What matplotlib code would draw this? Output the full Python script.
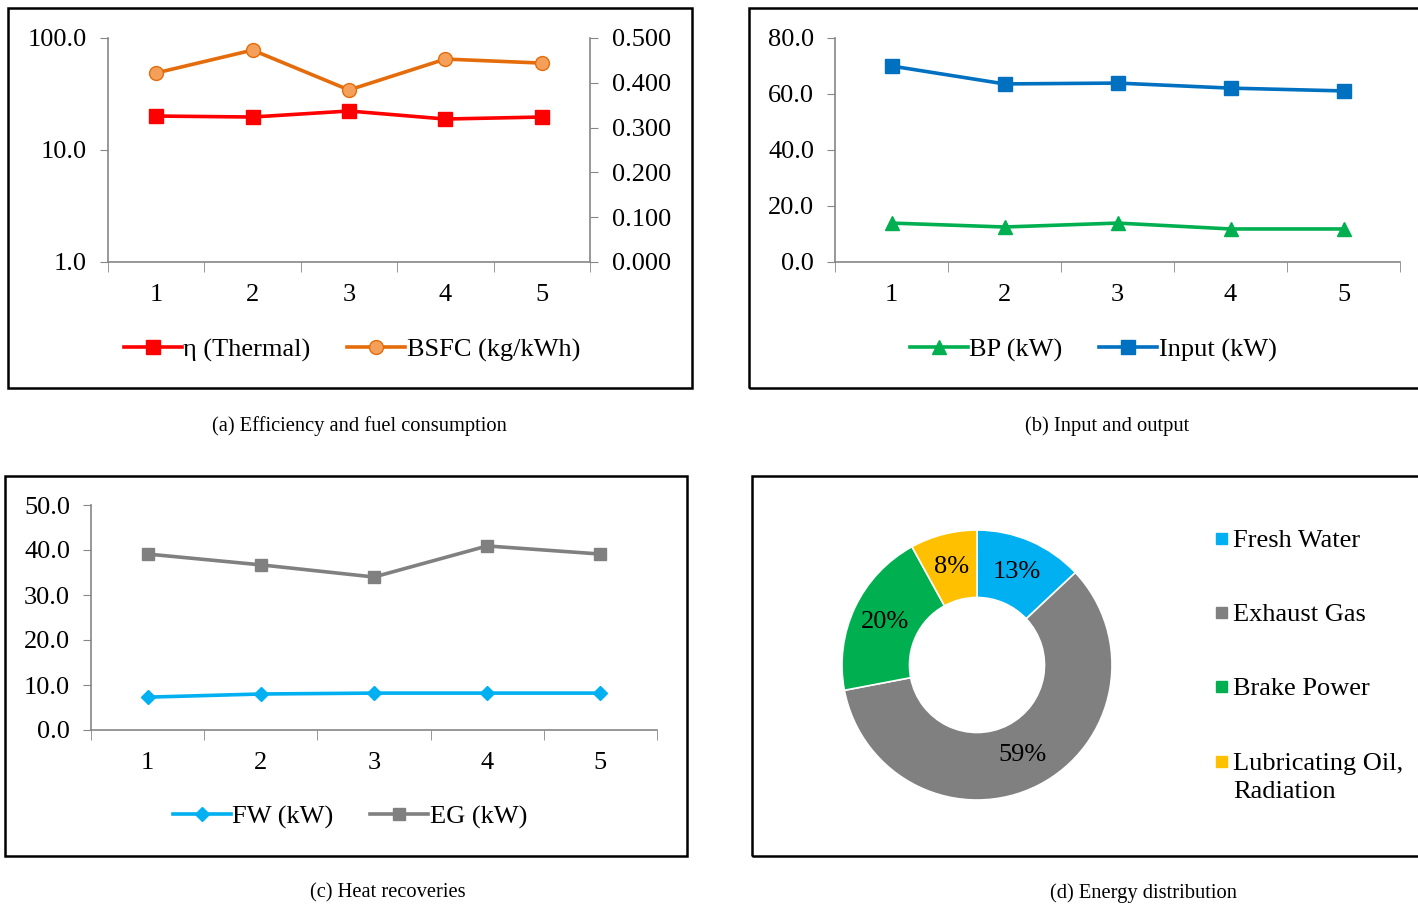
# -*- coding: utf-8 -*-
#%%=========================== Bibliotecas ==================================
import matplotlib
matplotlib.use('Agg')
import matplotlib.pyplot as plt
from matplotlib.patches import Rectangle
from matplotlib.ticker import FixedLocator, FormatStrFormatter, NullLocator

plt.rcParams['font.family'] = ['Liberation Serif', 'DejaVu Serif']

#%%=========================== Dados ========================================
casos = [1, 2, 3, 4, 5]

eta_termico = [20.1, 19.7, 22.3, 18.9, 19.7]
bsfc = [0.422, 0.473, 0.384, 0.453, 0.444]

bp_kw = [13.9, 12.5, 13.9, 11.8, 11.8]
input_kw = [70.0, 63.6, 63.9, 62.1, 61.1]

fw_kw = [7.3, 8.0, 8.2, 8.2, 8.2]
eg_kw = [39.1, 36.7, 34.0, 40.9, 39.1]

energia_rotulos = ['Fresh Water', 'Exhaust Gas', 'Brake Power',
                   'Lubricating Oil,\nRadiation']
energia_pct = [13, 59, 20, 8]
energia_cores = ['#00B0F0', '#808080', '#00B050', '#FFC000']

#%%=========================== Figura =======================================
W, H = 1418, 909
fig = plt.figure(figsize=(W / 100, H / 100), dpi=100)
fig.patch.set_facecolor('white')


def caixa(x0, y0, x1, y1):
    # converte pixels (topo-esquerda) para coordenadas da figura
    return [x0 / W, 1 - y1 / H, (x1 - x0) / W, (y1 - y0) / H]


def moldura(x0, y0, x1, y1):
    r = Rectangle((x0 / W, 1 - y1 / H), (x1 - x0) / W, (y1 - y0) / H,
                  transform=fig.transFigure, fill=False, edgecolor='black',
                  linewidth=1.8, zorder=0)
    fig.patches.append(r)


FS = 19
FS_LEG = 14.8
COR_EIXO = '#868686'


def estilo_categorias(ax):
    ax.set_xlim(0.5, 5.5)
    ax.xaxis.set_major_locator(FixedLocator(casos))
    ax.xaxis.set_minor_locator(FixedLocator([0.5, 1.5, 2.5, 3.5, 4.5, 5.5]))
    ax.tick_params(axis='x', which='major', length=0, pad=16, labelsize=FS)
    ax.tick_params(axis='x', which='minor', length=7, direction='out',
                   color=COR_EIXO)
    ax.tick_params(axis='y', which='major', length=6, direction='out',
                   color=COR_EIXO, pad=9, labelsize=FS)
    ax.tick_params(axis='y', which='minor', length=0)
    for s in ['top', 'right']:
        ax.spines[s].set_visible(False)
    for s in ['left', 'bottom']:
        ax.spines[s].set_color(COR_EIXO)
        ax.spines[s].set_linewidth(1.2)


#%% (a) Eficiência e consumo
moldura(8, 8, 692, 388)
ax_a = fig.add_axes(caixa(108, 38, 590, 262))
ax_a.set_yscale('log')
ax_a.set_ylim(1, 100)
ax_a.yaxis.set_major_locator(FixedLocator([1, 10, 100]))
ax_a.yaxis.set_minor_locator(NullLocator())
ax_a.yaxis.set_major_formatter(FormatStrFormatter('%.1f'))
estilo_categorias(ax_a)
l1, = ax_a.plot(casos, eta_termico, color='#FF0000', lw=2.6, marker='s',
                markersize=10, markeredgecolor='#FF0000', zorder=3)

ax_a2 = ax_a.twinx()
ax_a2.set_ylim(0, 0.5)
ax_a2.set_yticks([0, 0.1, 0.2, 0.3, 0.4, 0.5])
ax_a2.yaxis.set_major_formatter(FormatStrFormatter('%.3f'))
ax_a2.tick_params(axis='y', length=6, direction='out', color=COR_EIXO,
                  pad=10, labelsize=FS)
for s in ['top', 'left', 'bottom']:
    ax_a2.spines[s].set_visible(False)
ax_a2.spines['right'].set_color(COR_EIXO)
ax_a2.spines['right'].set_linewidth(1.2)
l2, = ax_a2.plot(casos, bsfc, color='#E46C0A', lw=2.6, marker='o',
                 markersize=10, markerfacecolor='#F5A05A',
                 markeredgecolor='#E46C0A', zorder=3)

fig.legend([l1, l2], ['η (Thermal)', 'BSFC (kg/kWh)'], loc='center',
           bbox_to_anchor=(352 / W, 1 - 350 / H), ncol=2, frameon=False,
           fontsize=FS, handlelength=2.2, handletextpad=0.05,
           columnspacing=1.4)
fig.text(359 / W, 1 - 426 / H, '(a) Efficiency and fuel consumption',
         ha='center', va='center', fontsize=FS_LEG)

#%% (b) Entrada e saída
moldura(749, 8, 1430, 388)
ax_b = fig.add_axes(caixa(835, 38, 1400, 262))
ax_b.set_ylim(0, 80)
ax_b.set_yticks([0, 20, 40, 60, 80])
ax_b.yaxis.set_major_formatter(FormatStrFormatter('%.1f'))
estilo_categorias(ax_b)
l3, = ax_b.plot(casos, bp_kw, color='#00B050', lw=2.6, marker='^',
                markersize=10, zorder=3)
l4, = ax_b.plot(casos, input_kw, color='#0070C0', lw=2.6, marker='s',
                markersize=10, zorder=3)
fig.legend([l3, l4], ['BP (kW)', 'Input (kW)'], loc='center',
           bbox_to_anchor=(1093 / W, 1 - 350 / H), ncol=2, frameon=False,
           fontsize=FS, handlelength=2.2, handletextpad=0.05,
           columnspacing=1.4)
fig.text(1107 / W, 1 - 426 / H, '(b) Input and output',
         ha='center', va='center', fontsize=FS_LEG)

#%% (c) Recuperação de calor
moldura(5, 476, 687, 856)
ax_c = fig.add_axes(caixa(91, 505, 657, 730))
ax_c.set_ylim(0, 50)
ax_c.set_yticks([0, 10, 20, 30, 40, 50])
ax_c.yaxis.set_major_formatter(FormatStrFormatter('%.1f'))
estilo_categorias(ax_c)
l5, = ax_c.plot(casos, fw_kw, color='#00B0F0', lw=2.6, marker='D',
                markersize=7, zorder=3)
l6, = ax_c.plot(casos, eg_kw, color='#808080', lw=2.6, marker='s',
                markersize=9, zorder=3)
fig.legend([l5, l6], ['FW (kW)', 'EG (kW)'], loc='center',
           bbox_to_anchor=(350 / W, 1 - 817 / H), ncol=2, frameon=False,
           fontsize=FS, handlelength=2.2, handletextpad=0.05,
           columnspacing=1.4)
fig.text(388 / W, 1 - 893 / H, '(c) Heat recoveries',
         ha='center', va='center', fontsize=FS_LEG)

#%% (d) Distribuição de energia
moldura(752, 476, 1430, 856)
ax_d = fig.add_axes(caixa(842, 530, 1112, 800))
wedges, textos, autotextos = ax_d.pie(
    energia_pct, colors=energia_cores, startangle=90, counterclock=False,
    autopct=lambda p: '%d%%' % round(p), pctdistance=0.75,
    wedgeprops=dict(width=0.5, edgecolor='white', linewidth=1.2),
    textprops=dict(fontsize=FS, color='black'))
ax_d.set_xlim(-1, 1)
ax_d.set_ylim(-1, 1)
ax_d.set_aspect('equal')

# legenda manual (quadradinho alinhado com a primeira linha)
ys_leg = [539, 613, 687, 762]
for y, rot, cor in zip(ys_leg, energia_rotulos, energia_cores):
    fig.patches.append(Rectangle((1216 / W, 1 - (y + 5) / H), 11 / W, 11 / H,
                                 transform=fig.transFigure, color=cor))
    fig.text(1233 / W, 1 - (y - 9) / H, rot, ha='left', va='top',
             fontsize=FS, linespacing=1.38)
fig.text(1143 / W, 1 - 893 / H, '(d) Energy distribution',
         ha='center', va='center', fontsize=FS_LEG)

plt.savefig('out.png', dpi=100, facecolor='white')
